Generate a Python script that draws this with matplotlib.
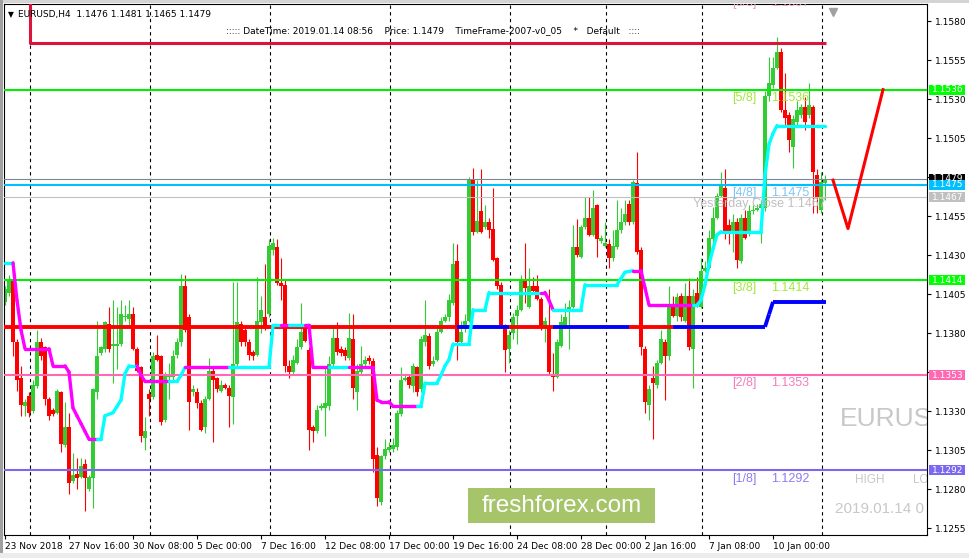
import matplotlib
matplotlib.use("Agg")
import matplotlib.pyplot as plt
import numpy as np
from matplotlib.patches import Rectangle
from matplotlib.collections import LineCollection
from matplotlib.transforms import blended_transform_factory

W, H = 970, 558

# EURUSD H4 bars, 23 Nov 2018 00:00 .. 14 Jan 2019 08:00 (x = bar index)
OPEN = [1.1400, 1.1406, 1.1414, 1.1374, 1.1351, 1.1333, 1.1340, 1.1330, 1.1346, 1.1374,
        1.1371, 1.1338, 1.1331, 1.1329, 1.1342, 1.1308, 1.1320, 1.1285, 1.1290, 1.1288,
        1.1296, 1.1280, 1.1287, 1.1342, 1.1367, 1.1370, 1.1386, 1.1372, 1.1372, 1.1373,
        1.1390, 1.1389, 1.1392, 1.1370, 1.1358, 1.1313, 1.1341, 1.1339, 1.1366, 1.1365,
        1.1324, 1.1352, 1.1352, 1.1366, 1.1374, 1.1410, 1.1390, 1.1342, 1.1342, 1.1335,
        1.1320, 1.1338, 1.1356, 1.1351, 1.1343, 1.1347, 1.1345, 1.1339, 1.1360, 1.1386,
        1.1382, 1.1374, 1.1368, 1.1366, 1.1387, 1.1390, 1.1392, 1.1433, 1.1435, 1.1412,
        1.1411, 1.1359, 1.1355, 1.1361, 1.1371, 1.1383, 1.1369, 1.1320, 1.1317, 1.1332,
        1.1332, 1.1333, 1.1360, 1.1377, 1.1370, 1.1369, 1.1364, 1.1376, 1.1342, 1.1355,
        1.1360, 1.1364, 1.1362, 1.1302, 1.1272, 1.1301, 1.1305, 1.1306, 1.1307, 1.1328,
        1.1350, 1.1352, 1.1346, 1.1358, 1.1344, 1.1374, 1.1378, 1.1360, 1.1363, 1.1381,
        1.1388, 1.1390, 1.1399, 1.1426, 1.1374, 1.1383, 1.1388, 1.1478, 1.1445, 1.1458,
        1.1448, 1.1451, 1.1447, 1.1428, 1.1411, 1.1385, 1.1370, 1.1380, 1.1391, 1.1395,
        1.1414, 1.1397, 1.1410, 1.1410, 1.1402, 1.1384, 1.1383, 1.1354, 1.1352, 1.1372,
        1.1384, 1.1394, 1.1397, 1.1435, 1.1429, 1.1448, 1.1454, 1.1443, 1.1462, 1.1439,
        1.1436, 1.1437, 1.1428, 1.1435, 1.1446, 1.1451, 1.1463, 1.1451, 1.1476, 1.1433,
        1.1370, 1.1334, 1.1351, 1.1347, 1.1361, 1.1374, 1.1365, 1.1397, 1.1391, 1.1404,
        1.1388, 1.1404, 1.1370, 1.1406, 1.1397, 1.1420, 1.1422, 1.1440, 1.1454, 1.1468,
        1.1473, 1.1449, 1.1444, 1.1451, 1.1426, 1.1454, 1.1444, 1.1458, 1.1459, 1.1460,
        1.1460, 1.1532, 1.1539, 1.1550, 1.1560, 1.1523, 1.1520, 1.1499, 1.1515, 1.1520,
        1.1525, 1.1520, 1.1525, 1.1481, 1.1459, 1.1476]
HIGH = [1.1410, 1.1417, 1.1426, 1.1376, 1.1359, 1.1338, 1.1342, 1.1350, 1.1382, 1.1377,
        1.1372, 1.1339, 1.1332, 1.1344, 1.1343, 1.1336, 1.1329, 1.1303, 1.1300, 1.1300,
        1.1299, 1.1289, 1.1345, 1.1388, 1.1372, 1.1388, 1.1397, 1.1401, 1.1397, 1.1401,
        1.1398, 1.1401, 1.1397, 1.1371, 1.1359, 1.1326, 1.1344, 1.1368, 1.1379, 1.1366,
        1.1355, 1.1361, 1.1369, 1.1377, 1.1418, 1.1417, 1.1392, 1.1347, 1.1345, 1.1337,
        1.1340, 1.1364, 1.1358, 1.1352, 1.1350, 1.1348, 1.1347, 1.1413, 1.1413, 1.1388,
        1.1383, 1.1376, 1.1369, 1.1416, 1.1404, 1.1424, 1.1440, 1.1441, 1.1440, 1.1428,
        1.1414, 1.1363, 1.1366, 1.1376, 1.1399, 1.1385, 1.1371, 1.1321, 1.1334, 1.1335,
        1.1358, 1.1365, 1.1385, 1.1387, 1.1372, 1.1371, 1.1393, 1.1392, 1.1360, 1.1372,
        1.1365, 1.1366, 1.1364, 1.1307, 1.1302, 1.1312, 1.1310, 1.1313, 1.1331, 1.1358,
        1.1354, 1.1353, 1.1361, 1.1359, 1.1378, 1.1401, 1.1380, 1.1365, 1.1383, 1.1390,
        1.1392, 1.1405, 1.1438, 1.1437, 1.1388, 1.1392, 1.1480, 1.1486, 1.1478, 1.1485,
        1.1462, 1.1454, 1.1473, 1.1429, 1.1413, 1.1386, 1.1382, 1.1393, 1.1398, 1.1417,
        1.1438, 1.1422, 1.1416, 1.1417, 1.1403, 1.1390, 1.1408, 1.1367, 1.1376, 1.1392,
        1.1399, 1.1401, 1.1449, 1.1453, 1.1449, 1.1467, 1.1467, 1.1472, 1.1463, 1.1443,
        1.1451, 1.1440, 1.1446, 1.1465, 1.1460, 1.1465, 1.1465, 1.1478, 1.1496, 1.1435,
        1.1372, 1.1347, 1.1359, 1.1363, 1.1382, 1.1376, 1.1410, 1.1404, 1.1406, 1.1406,
        1.1412, 1.1415, 1.1408, 1.1416, 1.1428, 1.1426, 1.1446, 1.1461, 1.1470, 1.1483,
        1.1485, 1.1453, 1.1456, 1.1454, 1.1456, 1.1459, 1.1462, 1.1462, 1.1463, 1.1465,
        1.1535, 1.1557, 1.1557, 1.1570, 1.1563, 1.1547, 1.1522, 1.1520, 1.1529, 1.1527,
        1.1531, 1.1540, 1.1526, 1.1485, 1.1483, 1.1481]
LOW = [1.1398, 1.1404, 1.1365, 1.1343, 1.1327, 1.1327, 1.1326, 1.1329, 1.1345, 1.1363,
       1.1334, 1.1324, 1.1327, 1.1328, 1.1304, 1.1307, 1.1277, 1.1284, 1.1280, 1.1287,
       1.1266, 1.1279, 1.1268, 1.1338, 1.1366, 1.1368, 1.1368, 1.1348, 1.1357, 1.1372,
       1.1388, 1.1383, 1.1369, 1.1355, 1.1310, 1.1305, 1.1327, 1.1338, 1.1362, 1.1321,
       1.1323, 1.1338, 1.1350, 1.1364, 1.1372, 1.1381, 1.1318, 1.1340, 1.1332, 1.1317,
       1.1316, 1.1337, 1.1310, 1.1342, 1.1342, 1.1344, 1.1320, 1.1322, 1.1359, 1.1372,
       1.1372, 1.1363, 1.1363, 1.1365, 1.1380, 1.1382, 1.1390, 1.1430, 1.1411, 1.1401,
       1.1355, 1.1351, 1.1354, 1.1360, 1.1370, 1.1374, 1.1305, 1.1310, 1.1316, 1.1331,
       1.1314, 1.1331, 1.1358, 1.1366, 1.1365, 1.1363, 1.1363, 1.1338, 1.1331, 1.1354,
       1.1359, 1.1360, 1.1291, 1.1269, 1.1270, 1.1299, 1.1304, 1.1304, 1.1305, 1.1327,
       1.1349, 1.1345, 1.1342, 1.1340, 1.1342, 1.1372, 1.1357, 1.1359, 1.1362, 1.1380,
       1.1387, 1.1388, 1.1398, 1.1363, 1.1373, 1.1381, 1.1387, 1.1443, 1.1444, 1.1444,
       1.1447, 1.1441, 1.1426, 1.1408, 1.1384, 1.1355, 1.1361, 1.1376, 1.1373, 1.1394,
       1.1399, 1.1396, 1.1405, 1.1401, 1.1382, 1.1374, 1.1353, 1.1343, 1.1351, 1.1371,
       1.1383, 1.1370, 1.1396, 1.1429, 1.1428, 1.1447, 1.1442, 1.1442, 1.1429, 1.1438,
       1.1435, 1.1422, 1.1426, 1.1434, 1.1444, 1.1449, 1.1449, 1.1450, 1.1431, 1.1366,
       1.1329, 1.1324, 1.1312, 1.1345, 1.1360, 1.1337, 1.1363, 1.1390, 1.1388, 1.1388,
       1.1387, 1.1369, 1.1345, 1.1397, 1.1396, 1.1419, 1.1421, 1.1438, 1.1453, 1.1467,
       1.1440, 1.1437, 1.1432, 1.1422, 1.1425, 1.1440, 1.1442, 1.1456, 1.1458, 1.1438,
       1.1458, 1.1529, 1.1537, 1.1549, 1.1522, 1.1512, 1.1496, 1.1486, 1.1513, 1.1518,
       1.1510, 1.1518, 1.1457, 1.1457, 1.1457, 1.1465]
CLOSE = [1.1408, 1.1414, 1.1374, 1.1350, 1.1334, 1.1336, 1.1329, 1.1347, 1.1374, 1.1365,
         1.1338, 1.1327, 1.1328, 1.1343, 1.1309, 1.1320, 1.1284, 1.1289, 1.1287, 1.1295,
         1.1287, 1.1288, 1.1344, 1.1365, 1.1371, 1.1387, 1.1370, 1.1372, 1.1373, 1.1392,
         1.1391, 1.1392, 1.1370, 1.1356, 1.1314, 1.1317, 1.1338, 1.1365, 1.1363, 1.1323,
         1.1353, 1.1353, 1.1365, 1.1374, 1.1410, 1.1382, 1.1336, 1.1344, 1.1335, 1.1318,
         1.1338, 1.1356, 1.1350, 1.1344, 1.1347, 1.1345, 1.1340, 1.1360, 1.1387, 1.1374,
         1.1374, 1.1366, 1.1365, 1.1388, 1.1395, 1.1384, 1.1436, 1.1438, 1.1412, 1.1410,
         1.1359, 1.1355, 1.1363, 1.1371, 1.1381, 1.1375, 1.1318, 1.1317, 1.1331, 1.1333,
         1.1335, 1.1360, 1.1377, 1.1368, 1.1367, 1.1365, 1.1377, 1.1345, 1.1356, 1.1360,
         1.1363, 1.1362, 1.1299, 1.1274, 1.1301, 1.1306, 1.1307, 1.1308, 1.1329, 1.1350,
         1.1351, 1.1347, 1.1359, 1.1342, 1.1376, 1.1379, 1.1359, 1.1362, 1.1381, 1.1388,
         1.1390, 1.1401, 1.1424, 1.1374, 1.1381, 1.1388, 1.1478, 1.1445, 1.1452, 1.1445,
         1.1451, 1.1446, 1.1427, 1.1410, 1.1385, 1.1369, 1.1379, 1.1390, 1.1395, 1.1414,
         1.1409, 1.1410, 1.1407, 1.1402, 1.1383, 1.1388, 1.1355, 1.1352, 1.1374, 1.1387,
         1.1390, 1.1397, 1.1435, 1.1430, 1.1448, 1.1454, 1.1443, 1.1460, 1.1440, 1.1441,
         1.1438, 1.1428, 1.1436, 1.1446, 1.1451, 1.1456, 1.1451, 1.1477, 1.1432, 1.1371,
         1.1336, 1.1344, 1.1348, 1.1361, 1.1376, 1.1365, 1.1397, 1.1391, 1.1403, 1.1390,
         1.1404, 1.1371, 1.1404, 1.1398, 1.1420, 1.1422, 1.1441, 1.1454, 1.1468, 1.1474,
         1.1444, 1.1444, 1.1451, 1.1427, 1.1454, 1.1441, 1.1458, 1.1459, 1.1460, 1.1463,
         1.1532, 1.1540, 1.1550, 1.1560, 1.1523, 1.1518, 1.1504, 1.1517, 1.1523, 1.1525,
         1.1515, 1.1526, 1.1483, 1.1467, 1.1477, 1.1479]

# x axis labels (every 16 bars)
XTICK_BARS = [0, 16, 32, 48, 64, 80, 96, 112, 128, 144, 160, 176, 192]
XTICK_LABELS = ["23 Nov 2018", "27 Nov 16:00", "30 Nov 08:00", "5 Dec 00:00",
                "7 Dec 16:00", "12 Dec 08:00", "17 Dec 00:00", "19 Dec 16:00",
                "24 Dec 08:00", "28 Dec 00:00", "2 Jan 16:00", "7 Jan 08:00",
                "10 Jan 00:00"]
WEEK_STARTS = [6, 36, 66, 96, 126, 150, 174, 204]
YTICKS = [1.1255, 1.1280, 1.1305, 1.1330, 1.1355, 1.1380, 1.1405, 1.1430,
          1.1455, 1.1480, 1.1505, 1.1530, 1.1555, 1.1580]
HIDDEN_TICKS = [1.1355, 1.1480]   # covered by price tags in the terminal

# Murrey math levels
MM_NAMES = ["[1/8]", "[2/8]", "[3/8]", "[4/8]", "[5/8]", "[6/8]"]
MM_LEVELS = [1.1292, 1.1353, 1.1414, 1.1475, 1.1536, 1.1597]
MM_LINE_COLORS = ["#7B68EE", "#FF69B4", "#00EE00", "#00BFFF", "#00EE00", "#DC143C"]
MM_TEXT_COLORS = ["#8C7CF2", "#F27DBE", "#A6E63C", "#7EC4F5", "#A6E63C", "#E8A0B0"]

# trailing stop line vertices (bar, price, colour of segment ending here)
TRAIL_X = [0, 2, 3, 4, 5, 11, 12, 15, 16, 17, 18, 19, 20, 21, 23, 24, 25, 27, 28, 29,
           30, 31, 33, 34, 35, 41, 43, 44, 45, 56, 66, 67, 69, 71, 75, 76, 77, 81, 86, 92,
           93, 94, 96, 97, 103, 104, 105, 108, 109, 110, 111, 112, 116, 117, 120, 121, 134, 135, 136, 137,
           144, 145, 153, 154, 155, 157, 159, 160, 161, 172, 173, 174, 175, 176, 177, 178, 179, 189, 190, 191,
           192, 193, 205]
TRAIL_Y = [1.1425, 1.1425, 1.1401, 1.1382, 1.1370, 1.1370, 1.1359, 1.1359, 1.1355, 1.1332,
           1.1327, 1.1322, 1.1317, 1.1312, 1.1312, 1.1312, 1.1327, 1.1329, 1.1333, 1.1337,
           1.1354, 1.1359, 1.1359, 1.1353, 1.1349, 1.1349, 1.1349, 1.1353, 1.1358, 1.1358,
           1.1358, 1.1385, 1.1385, 1.1385, 1.1385, 1.1385, 1.1358, 1.1358, 1.1358, 1.1358,
           1.1337, 1.1336, 1.1336, 1.1333, 1.1333, 1.1333, 1.1348, 1.1348, 1.1353, 1.1359,
           1.1363, 1.1373, 1.1373, 1.1395, 1.1395, 1.1406, 1.1406, 1.1406, 1.1401, 1.1395,
           1.1395, 1.1411, 1.1411, 1.1415, 1.1419, 1.1420, 1.1420, 1.1409, 1.1398, 1.1398,
           1.1398, 1.1401, 1.1411, 1.1424, 1.1434, 1.1443, 1.1445, 1.1445, 1.1481, 1.1501,
           1.1508, 1.1513, 1.1513]
TRAIL_UP = ["c", "c", "m", "m", "m", "m", "m", "m", "m", "m", "m", "m", "m", "m", "m", "c", "c", "c", "c", "c",
            "c", "c", "c", "m", "m", "m", "c", "c", "c", "m", "c", "c", "c", "m", "c", "m", "m", "m", "c", "m",
            "m", "m", "m", "m", "m", "c", "c", "c", "c", "c", "c", "c", "c", "c", "c", "c", "c", "m", "m", "m",
            "c", "c", "c", "c", "c", "c", "m", "m", "m", "m", "c", "c", "c", "c", "c", "c", "c", "c", "c", "c",
            "c", "c", "c"]

# red/blue level line
LEVEL_X = [-0.25, 113, 126, 137, 156, 167, 190, 191, 192, 205.25]
LEVEL_Y = [1.1384, 1.1384, 1.1384, 1.1384, 1.1384, 1.1384, 1.1384, 1.1392, 1.1400, 1.1400]
LEVEL_C = ["r", "r", "b", "r", "b", "r", "b", "b", "b", "b"]

# crimson high line
HIGHLINE_X = [6.25, 6.25, 205.25]
HIGHLINE_Y = [1.1600, 1.1566, 1.1566]

# forecast zigzag
ZZ_X = [207, 210.75, 219.5]
ZZ_Y = [1.1478, 1.1447, 1.1536]

BID = 1.1479
YCLOSE = 1.1467

TAGS = [(1.1536, "#00FF00"), (1.1479, "#000000"), (1.1475, "#00BFFF"),
        (1.1467, "#C0C0C0"), (1.1414, "#00FF00"), (1.1353, "#FF69B4"),
        (1.1292, "#7B68EE")]

GREEN = "#32CD32"
RED = "#FF0000"
SMALL = 6.5


def fx(px):
    return px / W


def fy(py):
    return 1 - py / H


fig = plt.figure(figsize=(W / 100, H / 100), dpi=100, facecolor="white")
ax = fig.add_axes([fx(4), fy(535), (927 - 4) / W, (535 - 4) / H])
ax.set_xlim(-0.25, 230.5)
ax.set_ylim(1.12506, 1.15909)
ax.set_facecolor("white")
for s in ax.spines.values():
    s.set_color("black")
    s.set_linewidth(0.8)

# window frame
fig.patches.append(Rectangle((0, fy(3)), 1, 3 / H, transform=fig.transFigure,
                             facecolor="#d4d4d4", edgecolor="none"))
fig.patches.append(Rectangle((0, 0), fx(3), 1, transform=fig.transFigure,
                             facecolor="#a0a0a0", edgecolor="none"))
fig.patches.append(Rectangle((0, 0), 1, 5 / H, transform=fig.transFigure,
                             facecolor="#ececec", edgecolor="none"))

# week separators
for b in WEEK_STARTS:
    ax.axvline(b + 0.25, color="black", lw=0.8, ls=(0, (3, 3)), zorder=1)

# candles
o = np.array(OPEN)
c = np.array(CLOSE)
x = np.arange(len(o))
cols = np.where(c >= o, GREEN, RED)
ax.vlines(x, LOW, HIGH, colors=cols, lw=0.8, zorder=2)
ax.bar(x, np.maximum(np.abs(c - o), 0.00008), bottom=np.minimum(o, c), width=0.82,
       color=cols, linewidth=0, zorder=2)

# murrey lines and labels
for name, lvl, lc, tc in zip(MM_NAMES, MM_LEVELS, MM_LINE_COLORS, MM_TEXT_COLORS):
    ax.axhline(lvl, color=lc, lw=1.5, zorder=3)
    ax.text(181.75, lvl - 0.00052, name, color=tc, fontsize=9, family="Liberation Sans",
            va="center", ha="left", zorder=6, clip_on=True)
    ax.text(191.5, lvl - 0.00052, f"{lvl:.4f}", color=tc, fontsize=9,
            family="Liberation Sans", va="center", ha="left", zorder=6, clip_on=True)

ax.axhline(BID, color="#778899", lw=0.8, zorder=3)
ax.axhline(YCLOSE, color="#C0C0C0", lw=0.8, zorder=3)
ax.text(205.2, YCLOSE - 0.00045, f"Yesterday Close {YCLOSE:.4f}", color="#C0C0C0",
        fontsize=9, family="Liberation Sans", ha="right", va="center", zorder=6)

# crimson high line
ax.plot(HIGHLINE_X, HIGHLINE_Y, color="#DC143C", lw=2.2, zorder=4,
        solid_capstyle="butt")

# red/blue level line
lv_cmap = {"r": "#FF0000", "b": "#0000FF"}
segs = [[(LEVEL_X[k - 1], LEVEL_Y[k - 1]), (LEVEL_X[k], LEVEL_Y[k])]
        for k in range(1, len(LEVEL_X))]
ax.add_collection(LineCollection(segs, colors=[lv_cmap[v] for v in LEVEL_C[1:]],
                                 linewidths=2.8, zorder=4, capstyle="butt"))

# trailing stop line
tr_cmap = {"c": "#00FFFF", "m": "#FF00FF"}
segs = [[(TRAIL_X[k - 1], TRAIL_Y[k - 1]), (TRAIL_X[k], TRAIL_Y[k])]
        for k in range(1, len(TRAIL_X))]
ax.add_collection(LineCollection(segs, colors=[tr_cmap[v] for v in TRAIL_UP[1:]],
                                 linewidths=2.4, zorder=5, capstyle="round"))

# forecast zigzag
ax.plot(ZZ_X, ZZ_Y, color="#FF0000", lw=2.2, zorder=5)

# faint right-side texts (cut by the chart edge as in the terminal)
ax.text(208.75, 1.1325, "EURUS", color="#C8C8C8", fontsize=19,
        family="Liberation Sans", va="center", ha="left", clip_on=True, zorder=1)
ax.text(212.5, 1.1286, "HIGH", color="#C8C8C8", fontsize=8.5,
        family="Liberation Sans", va="center", ha="left", clip_on=True, zorder=1)
ax.text(227.0, 1.1286, "LO", color="#C8C8C8", fontsize=8.5,
        family="Liberation Sans", va="center", ha="left", clip_on=True, zorder=1)
ax.text(207.5, 1.1267, "2019.01.14 0", color="#C8C8C8", fontsize=11,
        family="Liberation Sans", va="center", ha="left", clip_on=True, zorder=1)

# axes ticks
ax.yaxis.tick_right()
ax.set_yticks(YTICKS)
ax.set_yticklabels(["" if v in HIDDEN_TICKS else f"{v:.4f}" for v in YTICKS])
ax.set_xticks(XTICK_BARS)
ax.set_xticklabels(XTICK_LABELS)
for lab in ax.get_xticklabels():
    lab.set_ha("left")
ax.tick_params(axis="both", direction="out", length=3, width=0.8, color="black",
               labelsize=SMALL, labelcolor="black", pad=2)
ax.tick_params(axis="y", pad=3)

# price tags on right axis
bt = blended_transform_factory(ax.transAxes, ax.transData)
tag_h = 10 * 0.0000641
for k, (p, col) in enumerate(TAGS):
    ax.add_patch(Rectangle(((929 - 4) / 923, p - tag_h / 2), 36 / 923, tag_h,
                           transform=bt, facecolor=col, edgecolor="none",
                           clip_on=False, zorder=10 + k))
    ax.text((932 - 4) / 923, p, f"{p:.4f}", transform=bt, color="white",
            fontsize=SMALL, va="center", ha="left", clip_on=False, zorder=10 + k)

# shift marker
ax.plot([207.0], [1.1586], marker="v", color="#A0A0A0", markersize=6, clip_on=False,
        zorder=8)

# header
fig.text(fx(8), fy(15), "\u25BC", fontsize=5.5, va="center", ha="left", color="black")
fig.text(fx(18), fy(15), "EURUSD,H4  1.1476 1.1481 1.1465 1.1479", fontsize=SMALL,
         va="center", ha="left", color="black")
fig.text(fx(226), fy(30.5),
         "::::: DateTime: 2019.01.14 08:56    Price: 1.1479    TimeFrame-2007-v0_05    *   Default   ::::",
         fontsize=SMALL, va="center", ha="left", color="black")

# watermark
fig.patches.append(Rectangle((fx(468), fy(523)), 187 / W, 35 / H, transform=fig.transFigure,
                             facecolor="#A6C46A", edgecolor="none", zorder=20))
fig.text(fx(561.5), fy(506), "freshforex.com", color="white", fontsize=17.5,
         family="Liberation Sans", ha="center", va="center", zorder=21)

fig.savefig("out.png", dpi=100, facecolor="white")
